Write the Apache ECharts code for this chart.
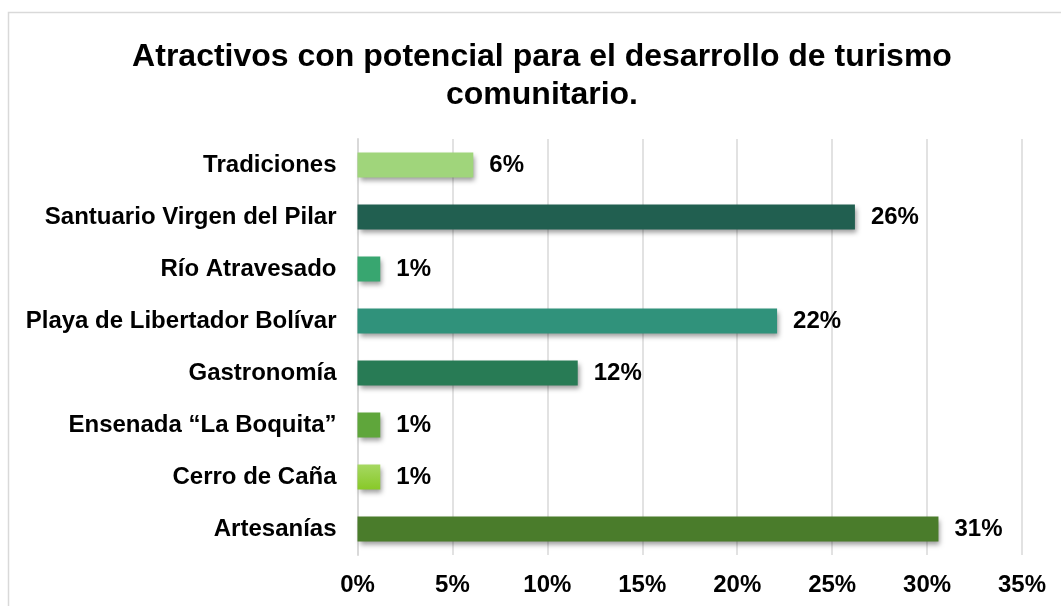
<!DOCTYPE html>
<html>
<head>
<meta charset="utf-8">
<script src="https://cdn.jsdelivr.net/npm/echarts@6/dist/echarts.min.js"></script>
<style>
html,body{margin:0;padding:0;background:#fff;overflow:hidden;}
#chart{width:1061px;height:606px;}
</style>
</head>
<body>
<div id="chart"></div>
<script>
var categories = ['Tradiciones','Santuario Virgen del Pilar','Río Atravesado','Playa de Libertador Bolívar','Gastronomía','Ensenada “La Boquita”','Cerro de Caña','Artesanías'];
var values = [6.1, 26.2, 1.2, 22.1, 11.6, 1.2, 1.2, 30.6];
var barColors = ['#a0d57b','#215f50','#38a670','#30927b','#287b55','#5fa63b',
  {type:'linear',x:0,y:0,x2:0,y2:1,colorStops:[{offset:0,color:'#a6d862'},{offset:1,color:'#88c928'}]},
  '#4a7c2b'];
var tickLabels = ['0%','5%','10%','15%','20%','25%','30%','35%'];
var titleText = 'Atractivos con potencial para el desarrollo de turismo\ncomunitario.';

var font = '"Liberation Sans", Arial, sans-serif';
var chart = echarts.init(document.getElementById('chart'), null, {renderer:'canvas'});
chart.setOption({
  animation:false,
  backgroundColor:'#fff',
  graphic:[
    {type:'rect', silent:true, shape:{x:8.5,y:12.5,width:1200,height:800}, style:{fill:'none',stroke:'#d9d9d9',lineWidth:1.5}},
    {type:'text', silent:true, x:542, y:38, style:{text:titleText, textAlign:'center', textVerticalAlign:'top', fontFamily:font, fontWeight:'bold', fontSize:32, lineHeight:38, fill:'#000'}}
  ],
  grid:{left:357.5, right:39, top:139, bottom:51},
  xAxis:{
    type:'value', min:0, max:35, interval:5,
    axisLine:{show:false}, axisTick:{show:false},
    splitLine:{show:true, lineStyle:{color:'#d9d9d9', width:1.5}},
    axisLabel:{margin:18, fontFamily:font, fontWeight:'bold', fontSize:24, color:'#000',
      formatter:function(v){ return tickLabels[Math.round(v/5)]; }}
  },
  yAxis:{
    type:'category', data:categories, inverse:true,
    axisLine:{show:true, lineStyle:{color:'#d9d9d9', width:2}},
    axisTick:{show:false},
    axisLabel:{margin:21, fontFamily:font, fontWeight:'bold', fontSize:24, color:'#000'}
  },
  series:[{
    type:'bar', barWidth:25,
    data:values.map(function(v,i){ return {value:v, itemStyle:{color:barColors[i]}}; }),
    itemStyle:{shadowBlur:5, shadowOffsetX:2, shadowOffsetY:3, shadowColor:'rgba(0,0,0,0.4)'},
    label:{show:true, position:'right', distance:16, fontFamily:font, fontWeight:'bold', fontSize:24, color:'#000',
      formatter:function(p){ return Math.round(p.value) + '%'; }}
  }]
});
</script>
</body>
</html>
